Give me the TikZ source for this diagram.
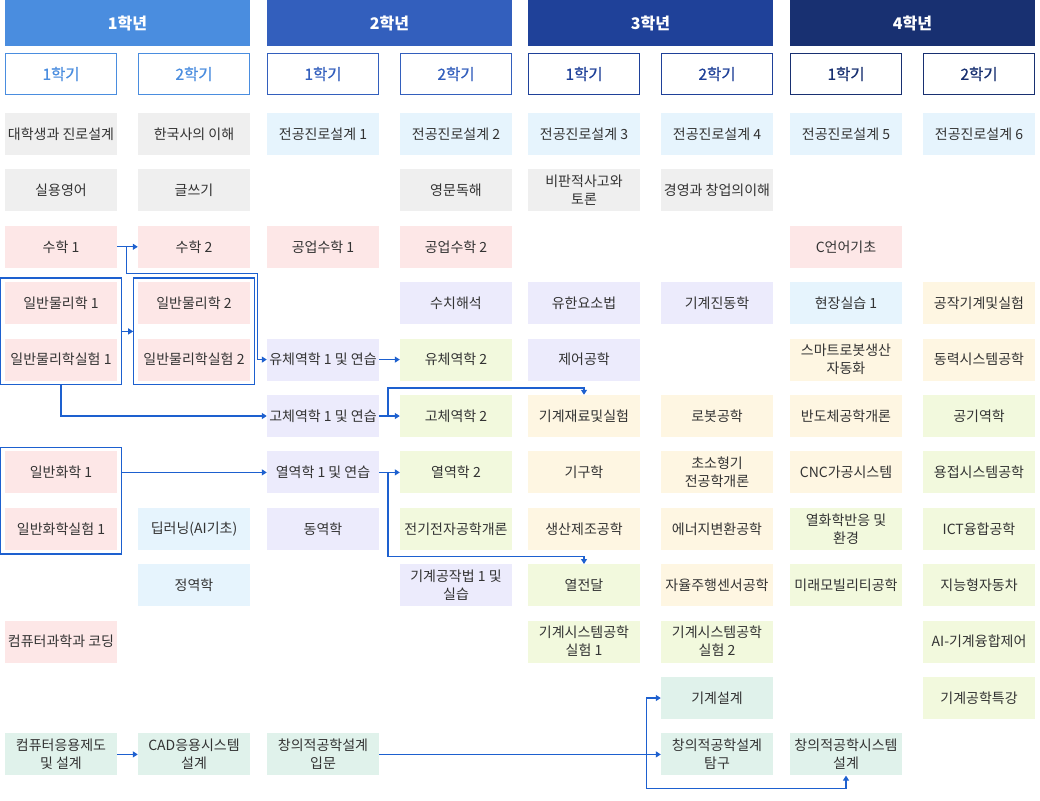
\documentclass[tikz,border=0pt]{standalone}
\usepackage{fontspec}
\setmainfont{Noto Sans CJK KR}
\usetikzlibrary{positioning,calc,fit,arrows.meta}
\definecolor{yearA}{HTML}{4A8DDF}
\definecolor{yearB}{HTML}{335FBD}
\definecolor{yearC}{HTML}{1F4199}
\definecolor{yearD}{HTML}{183071}
\definecolor{gray}{HTML}{EFEFEF}
\definecolor{sky}{HTML}{E6F4FD}
\definecolor{pink}{HTML}{FDE7E7}
\definecolor{lav}{HTML}{ECEBFC}
\definecolor{lime}{HTML}{F2F9DD}
\definecolor{cream}{HTML}{FEF6E2}
\definecolor{mint}{HTML}{E0F2EB}
\definecolor{ink}{HTML}{333333}
\definecolor{wire}{HTML}{1D60CF}
\def\BoxWidth{112pt}
\def\BoxHeight{42pt}
\def\RowH{56.4}
\tikzset{
	year/.style={fill=#1,text=white,font=\bfseries\fontsize{16}{18}\selectfont,
		minimum width=245pt,minimum height=46pt,inner sep=0pt},
	term/.style={draw=#1,line width=1pt,fill=white,text=#1,
		font=\fontsize{15.5}{18}\selectfont\addfontfeature{FakeBold=0.6},
		minimum width=\BoxWidth-1pt,minimum height=\BoxHeight-1pt,inner sep=0pt},
	course/.style={fill=#1,text=ink,font=\fontsize{14}{18}\selectfont,align=center,
		minimum width=\BoxWidth,minimum height=\BoxHeight,inner sep=0pt},
	grp/.style={draw=wire,line width=1.2pt,inner sep=4pt},
	link/.style={draw=wire,line width=1.2pt,-{Triangle[length=5pt,width=6pt]}},
}

\begin{document}
\begin{tikzpicture}[x=1pt,y=-1pt]
	\useasboundingbox (0,0) rectangle (1040,800);
	% grid of columns and rows
	\coordinate (colA) at (61,0);
	\coordinate (colB) at (194,0);
	\coordinate (colC) at (323,0);
	\coordinate (colD) at (456,0);
	\coordinate (colE) at (584,0);
	\coordinate (colF) at (717,0);
	\coordinate (colG) at (846,0);
	\coordinate (colH) at (979,0);
	\foreach \i in {1,...,12}
		\coordinate (row\i) at (0,{134+\RowH*(\i-1)});
	% semesters
	\node[term=yearA] (ta) at (61,74) {1학기};
	\node[term=yearA] (tb) at (194,74) {2학기};
	\node[term=yearB] (tc) at (323,74) {1학기};
	\node[term=yearB] (td) at (456,74) {2학기};
	\node[term=yearC] (te) at (584,74) {1학기};
	\node[term=yearC] (tf) at (717,74) {2학기};
	\node[term=yearD] (tg) at (846,74) {1학기};
	\node[term=yearD] (th) at (979,74) {2학기};
	% years
	\node[year=yearA] (ya) at ($(ta)!0.5!(tb)+(0,-51)$) {1학년};
	\node[year=yearB] (yb) at ($(tc)!0.5!(td)+(0,-51)$) {2학년};
	\node[year=yearC] (yc) at ($(te)!0.5!(tf)+(0,-51)$) {3학년};
	\node[year=yearD] (yd) at ($(tg)!0.5!(th)+(0,-51)$) {4학년};
	% 1st year, 1st term
	\node[course=gray] (a1) at (colA |- row1) {대학생과 진로설계};
	\node[course=gray] (a2) at (colA |- row2) {실용영어};
	\node[course=pink] (a3) at (colA |- row3) {수학 1};
	\node[course=pink] (a4) at (colA |- row4) {일반물리학 1};
	\node[course=pink] (a5) at (colA |- row5) {일반물리학실험 1};
	\node[course=pink] (a7) at (colA |- row7) {일반화학 1};
	\node[course=pink] (a8) at (colA |- row8) {일반화학실험 1};
	\node[course=pink] (a10) at (colA |- row10) {컴퓨터과학과 코딩};
	\node[course=mint] (a12) at (colA |- row12) {컴퓨터응용제도\\및 설계};
	% 1st year, 2nd term
	\node[course=gray] (b1) at (colB |- row1) {한국사의 이해};
	\node[course=gray] (b2) at (colB |- row2) {글쓰기};
	\node[course=pink] (b3) at (colB |- row3) {수학 2};
	\node[course=pink] (b4) at (colB |- row4) {일반물리학 2};
	\node[course=pink] (b5) at (colB |- row5) {일반물리학실험 2};
	\node[course=sky] (b8) at (colB |- row8) {딥러닝(AI기초)};
	\node[course=sky] (b9) at (colB |- row9) {정역학};
	\node[course=mint] (b12) at (colB |- row12) {CAD응용시스템\\설계};
	% 2nd year, 1st term
	\node[course=sky] (c1) at (colC |- row1) {전공진로설계 1};
	\node[course=pink] (c3) at (colC |- row3) {공업수학 1};
	\node[course=lav] (c5) at (colC |- row5) {유체역학 1 및 연습};
	\node[course=lav] (c6) at (colC |- row6) {고체역학 1 및 연습};
	\node[course=lav] (c7) at (colC |- row7) {열역학 1 및 연습};
	\node[course=lav] (c8) at (colC |- row8) {동역학};
	\node[course=mint] (c12) at (colC |- row12) {창의적공학설계\\입문};
	% 2nd year, 2nd term
	\node[course=sky] (d1) at (colD |- row1) {전공진로설계 2};
	\node[course=gray] (d2) at (colD |- row2) {영문독해};
	\node[course=pink] (d3) at (colD |- row3) {공업수학 2};
	\node[course=lav] (d4) at (colD |- row4) {수치해석};
	\node[course=lime] (d5) at (colD |- row5) {유체역학 2};
	\node[course=lime] (d6) at (colD |- row6) {고체역학 2};
	\node[course=lime] (d7) at (colD |- row7) {열역학 2};
	\node[course=lime] (d8) at (colD |- row8) {전기전자공학개론};
	\node[course=lav] (d9) at (colD |- row9) {기계공작법 1 및\\실습};
	% 3rd year, 1st term
	\node[course=sky] (e1) at (colE |- row1) {전공진로설계 3};
	\node[course=gray] (e2) at (colE |- row2) {비판적사고와\\토론};
	\node[course=lav] (e4) at (colE |- row4) {유한요소법};
	\node[course=lav] (e5) at (colE |- row5) {제어공학};
	\node[course=cream] (e6) at (colE |- row6) {기계재료및실험};
	\node[course=cream] (e7) at (colE |- row7) {기구학};
	\node[course=cream] (e8) at (colE |- row8) {생산제조공학};
	\node[course=lime] (e9) at (colE |- row9) {열전달};
	\node[course=lime] (e10) at (colE |- row10) {기계시스템공학\\실험 1};
	% 3rd year, 2nd term
	\node[course=sky] (f1) at (colF |- row1) {전공진로설계 4};
	\node[course=gray] (f2) at (colF |- row2) {경영과 창업의이해};
	\node[course=lav] (f4) at (colF |- row4) {기계진동학};
	\node[course=cream] (f6) at (colF |- row6) {로봇공학};
	\node[course=cream] (f7) at (colF |- row7) {초소형기\\전공학개론};
	\node[course=cream] (f8) at (colF |- row8) {에너지변환공학};
	\node[course=cream] (f9) at (colF |- row9) {자율주행센서공학};
	\node[course=lime] (f10) at (colF |- row10) {기계시스템공학\\실험 2};
	\node[course=mint] (f11) at (colF |- row11) {기계설계};
	\node[course=mint] (f12) at (colF |- row12) {창의적공학설계\\탐구};
	% 4th year, 1st term
	\node[course=sky] (g1) at (colG |- row1) {전공진로설계 5};
	\node[course=pink] (g3) at (colG |- row3) {C언어기초};
	\node[course=sky] (g4) at (colG |- row4) {현장실습 1};
	\node[course=cream] (g5) at (colG |- row5) {스마트로봇생산\\자동화};
	\node[course=cream] (g6) at (colG |- row6) {반도체공학개론};
	\node[course=cream] (g7) at (colG |- row7) {CNC가공시스템};
	\node[course=lime] (g8) at (colG |- row8) {열화학반응 및\\환경};
	\node[course=lime] (g9) at (colG |- row9) {미래모빌리티공학};
	\node[course=mint] (g12) at (colG |- row12) {창의적공학시스템\\설계};
	% 4th year, 2nd term
	\node[course=sky] (h1) at (colH |- row1) {전공진로설계 6};
	\node[course=cream] (h4) at (colH |- row4) {공작기계및실험};
	\node[course=cream] (h5) at (colH |- row5) {동력시스템공학};
	\node[course=lime] (h6) at (colH |- row6) {공기역학};
	\node[course=lime] (h7) at (colH |- row7) {용접시스템공학};
	\node[course=lime] (h8) at (colH |- row8) {ICT융합공학};
	\node[course=lime] (h9) at (colH |- row9) {지능형자동차};
	\node[course=lime] (h10) at (colH |- row10) {AI-기계융합제어};
	\node[course=lime] (h11) at (colH |- row11) {기계공학특강};
	% groups
	\node[grp,fit=(a4)(a5)] (pa) {};
	\node[grp,fit=(b4)(b5)] (pb) {};
	\node[grp,fit=(a7)(a8)] (ca) {};
	% junctions
	\coordinate (j1) at ($(a3.east)!0.45!(b3.west)$);
	\coordinate (k1) at ($(c5.west)+(-9,-86)$);
	\coordinate (j2) at ($(c6.east)!0.43!(d6.west)$);
	\coordinate (j3) at ($(c7.east)!0.43!(d7.west)$);
	\coordinate (j4) at ($(f12.west)+(-14,0)$);
	% links
	\draw[link] (a3.east) -- (b3.west);
	\draw[link] (j1) |- (k1) |- (c5.west);
	\draw[link] (pa.east) -- (pb.west);
	\draw[link] (pa.south) |- (c6.west);
	\draw[link] (ca.east |- a7) -- (c7.west);
	\draw[link] (c5.east) -- (d5.west);
	\draw[link] (c6.east) -- (d6.west);
	\draw[link] (c7.east) -- (d7.west);
	\draw[link] (j2) -- ++(0,-28) -| (e6.north);
	\draw[link] (j3) -- ++(0,84) -| (e9.north);
	\draw[link] (a12.east) -- (b12.west);
	\draw[link] (c12.east) -- (f12.west);
	\draw[link] (j4) |- (f11.west);
	\draw[link] (j4) -- ++(0,34) -| (g12.south);
\end{tikzpicture}
\end{document}
